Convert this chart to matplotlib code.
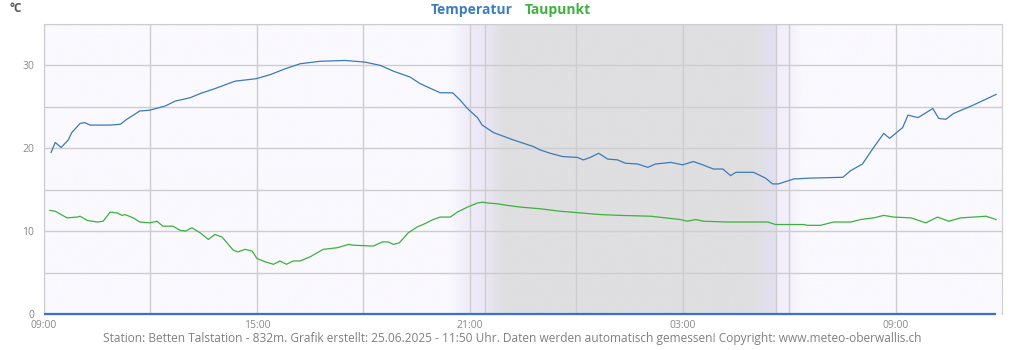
import numpy as np
import pandas as pd
import matplotlib
matplotlib.use('Agg')
import matplotlib.pyplot as plt
import matplotlib.dates as mdates
from matplotlib.colors import to_rgb

plt.rcParams['font.family'] = ['Open Sans', 'DejaVu Sans']

# Messwerte Betten Talstation, 24.06.2025 09:00 bis 25.06.2025 11:50
start = pd.Timestamp('2025-06-24 09:00')

temp_zeit = ['09:12', '09:19', '09:29', '09:41', '09:47', '10:01', '10:09', '10:18', '10:35', '10:52',
             '11:09', '11:20', '11:42', '11:59', '12:25', '12:42', '13:07', '13:24', '13:49', '14:23',
             '14:59', '15:23', '15:48', '16:13', '16:47', '17:29', '18:03', '18:29', '18:51', '19:19',
             '19:36', '20:10', '20:31', '20:44', '20:56', '21:13', '21:21', '21:40', '22:14', '22:48',
             '22:59', '23:16', '23:37', '00:02', '00:12', '00:24', '00:38', '00:53', '01:10', '01:23',
             '01:44', '02:01', '02:14', '02:40', '03:00', '03:18', '03:34', '03:52', '04:08', '04:21',
             '04:30', '05:00', '05:20', '05:32', '05:42', '06:08', '06:36', '07:31', '07:44', '08:04',
             '08:23', '08:40', '08:50', '09:12', '09:21', '09:38', '10:03', '10:13', '10:25', '10:38',
             '11:11', '11:50']
temperatur = [19.5, 20.7, 20.1, 21.0, 21.9, 23.0, 23.1, 22.8, 22.8, 22.8,
              22.9, 23.5, 24.5, 24.6, 25.1, 25.7, 26.1, 26.6, 27.2, 28.1,
              28.4, 28.9, 29.6, 30.2, 30.5, 30.6, 30.4, 30.0, 29.3, 28.6,
              27.8, 26.7, 26.7, 25.8, 24.8, 23.7, 22.8, 21.9, 21.0, 20.2,
              19.8, 19.4, 19.0, 18.9, 18.6, 18.9, 19.4, 18.7, 18.6, 18.2,
              18.1, 17.7, 18.1, 18.3, 18.0, 18.4, 18.0, 17.5, 17.5, 16.7,
              17.1, 17.1, 16.4, 15.7, 15.7, 16.3, 16.4, 16.5, 17.3, 18.1,
              20.1, 21.8, 21.2, 22.5, 24.0, 23.7, 24.8, 23.6, 23.5, 24.2,
              25.2, 26.5]

tau_zeit = ['09:10', '09:19', '09:39', '09:56', '10:01', '10:13', '10:30', '10:40', '10:52', '11:04',
            '11:12', '11:17', '11:31', '11:42', '11:59', '12:11', '12:21', '12:38', '12:50', '12:59',
            '13:10', '13:24', '13:38', '13:49', '14:01', '14:20', '14:28', '14:40', '14:52', '15:00',
            '15:14', '15:28', '15:39', '15:50', '16:01', '16:13', '16:30', '16:52', '17:16', '17:35',
            '17:43', '18:17', '18:32', '18:42', '18:51', '19:01', '19:16', '19:31', '19:41', '19:58',
            '20:10', '20:27', '20:39', '20:56', '21:13', '21:21', '21:30', '21:47', '22:04', '22:26',
            '22:59', '23:33', '00:07', '00:41', '01:15', '02:06', '02:56', '03:08', '03:22', '03:35',
            '04:16', '05:24', '05:37', '06:25', '06:31', '06:53', '07:15', '07:44', '08:01', '08:23',
            '08:40', '08:57', '09:26', '09:43', '09:51', '10:11', '10:30', '10:50', '11:12', '11:33',
            '11:50']
taupunkt = [12.5, 12.4, 11.6, 11.7, 11.8, 11.3, 11.1, 11.2, 12.3, 12.2,
            11.9, 12.0, 11.6, 11.1, 11.0, 11.2, 10.6, 10.6, 10.1, 10.0,
            10.4, 9.8, 9.0, 9.6, 9.3, 7.7, 7.5, 7.8, 7.6, 6.7,
            6.3, 6.0, 6.4, 6.0, 6.4, 6.4, 6.9, 7.8, 8.0, 8.4,
            8.3, 8.2, 8.7, 8.7, 8.4, 8.6, 9.8, 10.5, 10.8, 11.4,
            11.7, 11.7, 12.3, 12.9, 13.4, 13.5, 13.4, 13.3, 13.1, 12.9,
            12.7, 12.4, 12.2, 12.0, 11.9, 11.8, 11.4, 11.2, 11.4, 11.2,
            11.1, 11.1, 10.8, 10.8, 10.7, 10.7, 11.1, 11.1, 11.4, 11.6,
            11.9, 11.7, 11.6, 11.2, 11.0, 11.7, 11.2, 11.6, 11.7, 11.8,
            11.4]

# Niederschlag (keiner gemessen)
regen_zeit = ['09:00', '00:00', '11:50']
niederschlag = [0.0, 0.0, 0.0]

y_ticks = [0, 10, 20, 30]
x_ticks = ['09:00', '15:00', '21:00', '03:00', '09:00']

# Dämmerung / Nacht
sonnenuntergang = '21:00'
daemmerung_ende = '21:25'
daemmerung_beginn = '05:38'
sonnenaufgang = '06:00'


def zeitachse(zeiten):
    # Uhrzeiten fortlaufend ab Start in Zeitstempel umwandeln
    out = []
    tag = start.normalize()
    letzte = None
    for z in zeiten:
        t = tag + pd.Timedelta(z + ':00')
        if letzte is not None and t < letzte:
            tag = tag + pd.Timedelta(days=1)
            t = t + pd.Timedelta(days=1)
        out.append(t)
        letzte = t
    return out


t_temp = zeitachse(temp_zeit)
t_tau = zeitachse(tau_zeit)
t_regen = zeitachse(regen_zeit)
ende = start + pd.Timedelta(hours=27)

fig = plt.figure(figsize=(10.24, 3.5), dpi=100)
ax = fig.add_axes([44 / 1024, 36 / 350, 958 / 1024, 290 / 350])

# Hintergrund mit Nachtschattierung
x0 = mdates.date2num(start)
x1 = mdates.date2num(ende)
def nt(z, folgetag=False):
    d = start.normalize() + pd.Timedelta(days=1 if folgetag else 0)
    return mdates.date2num(d + pd.Timedelta(z + ':00'))
hg = '#faf9fe'
stops = [
    (x0, hg),
    (nt(sonnenuntergang) - 0.6 / 24, hg),
    (nt(sonnenuntergang), '#efebf9'),
    (nt(daemmerung_ende), '#ebe7f5'),
    (nt(daemmerung_ende) + 0.55 / 24, '#dfdfe1'),
    (nt(daemmerung_beginn, True) - 0.75 / 24, '#dfdfe1'),
    (nt(daemmerung_beginn, True), '#e3e0ef'),
    (nt(daemmerung_beginn, True) + 0.01 / 24, '#f1edfa'),
    (nt(sonnenaufgang, True), '#f3f0fb'),
    (nt(sonnenaufgang, True) + 0.35 / 24, hg),
    (x1, hg),
]
xs = np.linspace(x0, x1, 3000)
sx = [s[0] for s in stops]
rgb = np.array([to_rgb(s[1]) for s in stops])
bild = np.stack([np.interp(xs, sx, rgb[:, i]) for i in range(3)], axis=-1)[None, :, :]
ax.imshow(bild, extent=[x0, x1, 0, 35], aspect='auto', zorder=0, interpolation='bilinear')

# Gitter
gitter = '#cdcdcf'
for y in range(0, 36, 5):
    ax.axhline(y, color=gitter, lw=1, zorder=1)
for h in range(0, 27, 3):
    ax.axvline(mdates.date2num(start + pd.Timedelta(hours=h)), color=gitter, lw=1, zorder=1)
ax.axvline(nt(daemmerung_ende), color=gitter, lw=1, zorder=1)
ax.axvline(nt(daemmerung_beginn, True), color=gitter, lw=1, zorder=1)

ax.plot(t_temp, temperatur, color='#3b7ab8', lw=0.9, zorder=3)
ax.plot(t_tau, taupunkt, color='#3cb13c', lw=0.9, zorder=3)
ax.plot(t_regen, niederschlag, color='#3a6ee0', lw=1.6, zorder=5, solid_capstyle='butt',
        clip_on=False)

ax.set_xlim(x0, x1)
ax.set_ylim(0, 35)
for s in ax.spines.values():
    s.set_color(gitter)
ax.spines['bottom'].set_visible(False)

ax.set_yticks(y_ticks)
ax.set_yticklabels([str(v) for v in y_ticks])
ax.set_xticks([mdates.date2num(start + pd.Timedelta(hours=6 * i)) for i in range(len(x_ticks))])
ax.set_xticklabels(x_ticks)
ax.tick_params(axis='both', length=0, colors='#8a8a8a', labelsize=7.5)
ax.tick_params(axis='y', pad=7)
ax.tick_params(axis='x', pad=4)

fig.text(10 / 1024, 1 - 9 / 350, '°C', color='#555555', fontsize=8.5, fontweight='bold', va='center')
fig.text(513 / 1024, 1 - 10 / 350, 'Temperatur', color='#3d7ebf', fontsize=10, fontweight='bold',
         ha='right', va='center')
fig.text(525 / 1024, 1 - 10 / 350, 'Taupunkt', color='#3fb13f', fontsize=10, fontweight='bold',
         ha='left', va='center')
fig.text(512 / 1024, 1 - 338.5 / 350,
         'Station: Betten Talstation - 832m. Grafik erstellt: 25.06.2025 - 11:50 Uhr. '
         'Daten werden automatisch gemessen! Copyright: www.meteo-oberwallis.ch',
         color='#808080', fontsize=8.6, ha='center', va='center')

fig.savefig('out.png', dpi=100)
